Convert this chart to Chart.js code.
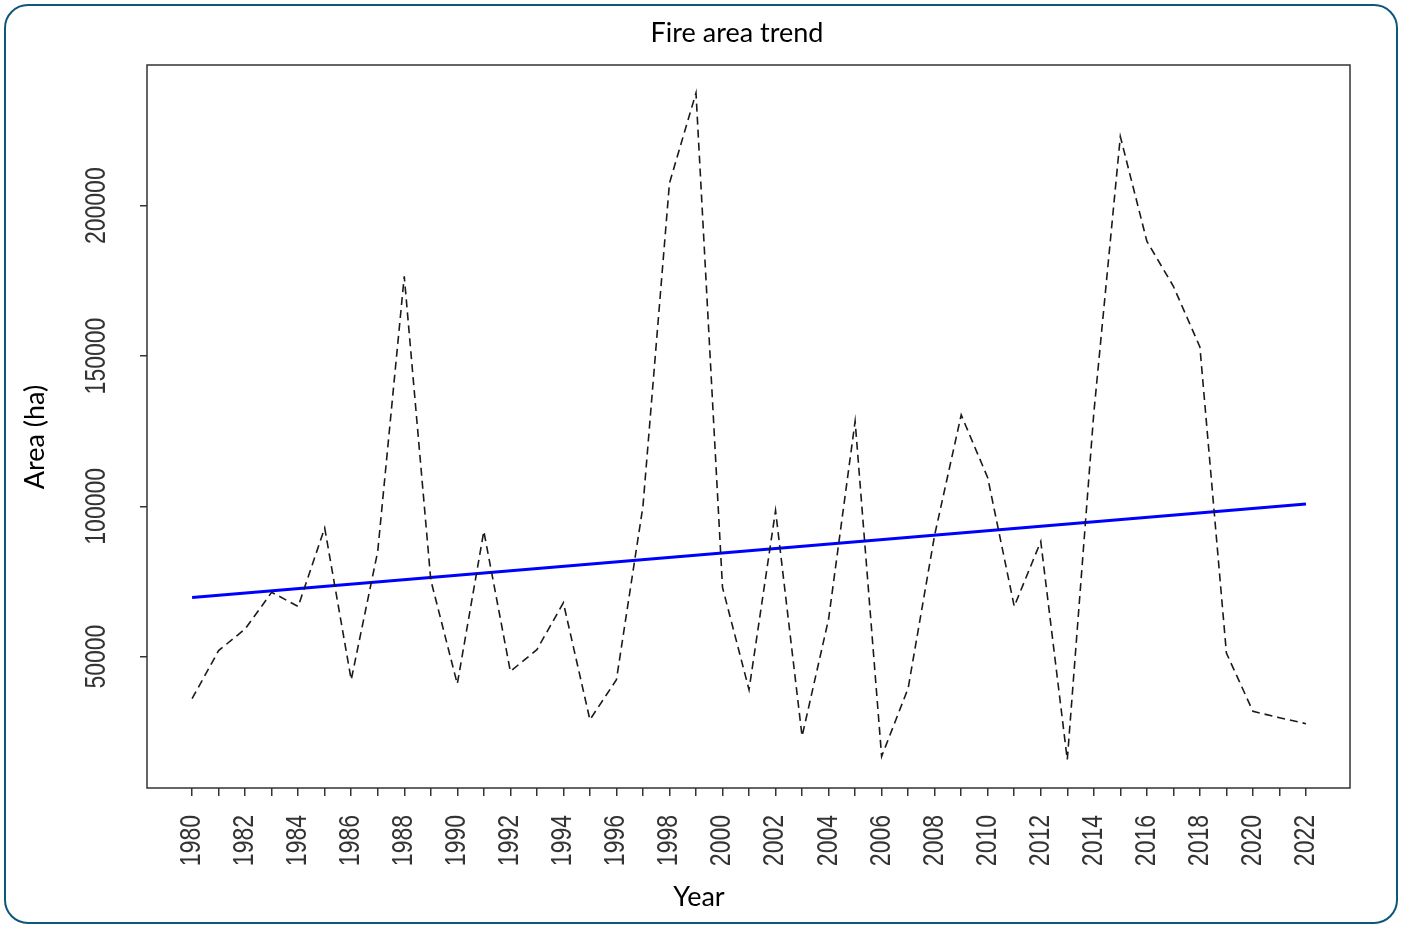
<!DOCTYPE html>
<html><head><meta charset="utf-8">
<script src="https://cdn.jsdelivr.net/npm/chart.js@4.4.1/dist/chart.umd.min.js"></script>
<style>
html,body{margin:0;padding:0;background:#fff;width:1404px;height:925px;overflow:hidden;}
#card{position:absolute;left:4px;top:4px;width:1390px;height:916px;border:2.5px solid #0d5878;border-radius:24px;}
canvas{position:absolute;left:0;top:0;}
</style></head><body>
<div id="card"></div>
<canvas id="c" width="1404" height="925"></canvas>
<script>
const years = [1980,1981,1982,1983,1984,1985,1986,1987,1988,1989,1990,1991,1992,1993,1994,1995,1996,1997,1998,1999,2000,2001,2002,2003,2004,2005,2006,2007,2008,2009,2010,2011,2012,2013,2014,2015,2016,2017,2018,2019,2020,2021,2022];
const area = [36000,52000,59200,71400,66700,92800,42300,85000,176500,75500,40900,91700,45100,52300,67900,29000,42300,100000,207500,237500,73000,39000,98600,23500,62500,128300,16800,39500,90500,130400,109500,66700,88300,15700,131000,223000,188200,173200,153000,51200,31800,29700,27700];
const trendYears = [1980, 2022];
const trendValues = [69700, 100800];
const yTicks = [50000, 100000, 150000, 200000];
const yTickLabels = ['50000', '100000', '150000', '200000'];
const titleText = 'Fire area trend';
const xTitle = 'Year';
const yTitle = 'Area (ha)';

const SX = 1.25;
const tickFont = '23px "Liberation Sans", Arial, sans-serif';
const titleFont = '27px Lato, "Open Sans", sans-serif';

const overlay = {
  id: 'overlay',
  afterDraw(chart) {
    const ctx = chart.ctx;
    const a = chart.chartArea;
    const xs = chart.scales.x, ys = chart.scales.y;
    ctx.save();
    ctx.strokeStyle = '#333';
    ctx.lineWidth = 1.5;
    ctx.strokeRect(a.left, a.top, a.right - a.left, a.bottom - a.top);
    ctx.fillStyle = '#333';
    ctx.font = tickFont;
    years.forEach(yr => {
      if (yr % 2 !== 0) return;
      const px = xs.getPixelForValue(yr);
      ctx.save();
      ctx.translate(px, 815);
      ctx.scale(SX, 1);
      ctx.rotate(-Math.PI / 2);
      ctx.textAlign = 'right';
      ctx.textBaseline = 'middle';
      ctx.fillText(String(yr), 0, 0);
      ctx.restore();
    });
    yTicks.forEach((v, i) => {
      const py = ys.getPixelForValue(v);
      ctx.save();
      ctx.translate(97, py);
      ctx.scale(SX, 1);
      ctx.rotate(-Math.PI / 2);
      ctx.textAlign = 'center';
      ctx.textBaseline = 'middle';
      ctx.fillText(yTickLabels[i], 0, 0);
      ctx.restore();
    });
    ctx.fillStyle = '#000';
    ctx.font = titleFont;
    ctx.textAlign = 'center';
    ctx.textBaseline = 'middle';
    ctx.fillText(titleText, 737, 33);
    ctx.fillText(xTitle, 699, 897);
    ctx.save();
    ctx.translate(35, 437);
    ctx.rotate(-Math.PI / 2);
    ctx.fillText(yTitle, 0, 0);
    ctx.restore();
    ctx.restore();
  }
};

new Chart(document.getElementById('c').getContext('2d'), {
  type: 'line',
  data: {
    datasets: [
      {
        data: years.map((y, i) => ({x: y, y: area[i]})),
        borderColor: '#1a1a1a', borderWidth: 1.6, borderDash: [8, 5],
        pointRadius: 0, tension: 0, fill: false
      },
      {
        data: trendYears.map((y, i) => ({x: y, y: trendValues[i]})),
        borderColor: '#0000ff', borderWidth: 3,
        pointRadius: 0, tension: 0, fill: false
      }
    ]
  },
  options: {
    responsive: false, animation: false, devicePixelRatio: 1,
    layout: {padding: {left: 0, top: 65, right: 54, bottom: 0}},
    plugins: {legend: {display: false}, title: {display: false}, tooltip: {enabled: false}},
    scales: {
      x: {
        type: 'linear', min: 1978.3, max: 2023.66,
        afterBuildTicks: s => { s.ticks = years.map(v => ({value: v})); },
        afterFit: s => { s.height = 137; },
        grid: {drawOnChartArea: false, drawTicks: true, tickLength: 8, color: '#333', lineWidth: 1.5},
        border: {display: false},
        ticks: {display: false, autoSkip: false}
      },
      y: {
        type: 'linear', min: 6300, max: 246800,
        afterBuildTicks: s => { s.ticks = yTicks.map(v => ({value: v})); },
        afterFit: s => { s.width = 147; },
        grid: {drawOnChartArea: false, drawTicks: true, tickLength: 7, color: '#333', lineWidth: 1.5},
        border: {display: false},
        ticks: {display: false}
      }
    }
  },
  plugins: [overlay]
});
</script>
</body></html>
